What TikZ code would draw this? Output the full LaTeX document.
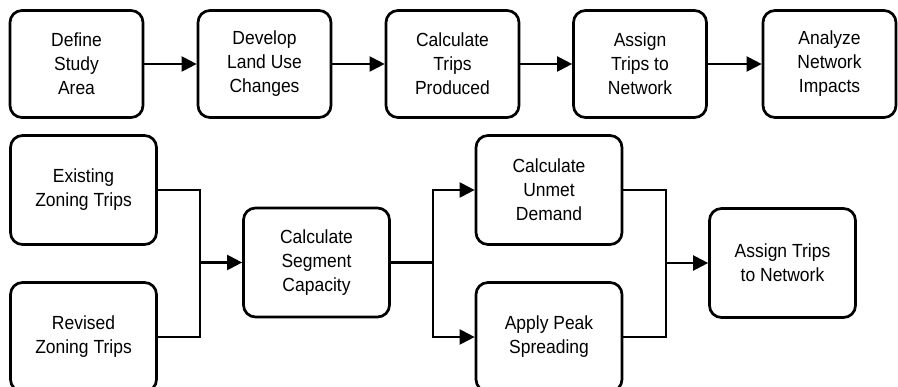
\documentclass[tikz,border=0pt]{standalone}
\usepackage{fontspec}
\setmainfont[FakeStretch=0.92]{Liberation Sans}
\usetikzlibrary{arrows.meta}
\begin{document}
\begin{tikzpicture}[x=1pt,y=-1pt,
  stepbox/.style={draw,line width=2.7pt,rounded corners=12pt,align=center,
    inner sep=0pt,font=\fontsize{19}{24}\selectfont},
  topbox/.style={stepbox,minimum width=133pt,minimum height=107pt},
  botbox/.style={stepbox,minimum width=146pt,minimum height=109pt},
  conn/.style={line width=2.2pt},
  arr/.style={conn,-{Triangle[length=15pt,width=15pt]}}]
\clip (0,0) rectangle (898,387);
\useasboundingbox (0,0) rectangle (898,387);
% top row
\node[topbox] (t1) at (76.5,64) {Define\\Study\\Area};
\node[topbox] (t2) at (264.5,64) {Develop\\Land Use\\Changes};
\node[topbox] (t3) at (452.5,64) {Calculate\\Trips\\Produced};
\node[topbox] (t4) at (640,64) {Assign\\Trips to\\Network};
\node[topbox] (t5) at (829.5,64) {Analyze\\Network\\Impacts};
\draw[arr] (t1) -- (t2);
\draw[arr] (t2) -- (t3);
\draw[arr] (t3) -- (t4);
\draw[arr] (t4) -- (t5);
% bottom
\node[botbox] (ex) at (83.5,190) {Existing\\Zoning Trips};
\node[botbox] (rev) at (83.5,337) {Revised\\Zoning Trips};
\node[botbox] (seg) at (316.5,262.5) {Calculate\\Segment\\Capacity};
\node[botbox] (un) at (549,190) {Calculate\\Unmet\\Demand};
\node[botbox] (pk) at (549,337) {Apply Peak\\Spreading};
\node[botbox] (as) at (782.5,263) {Assign Trips\\to Network};
\coordinate (j1) at (200,262.5);
\coordinate (j2) at (433,262.5);
\coordinate (j3) at (666,263);
\draw[conn] (ex.east) -| (j1) |- (rev.east);
\draw[arr] (j1) -- (seg.west);
\draw[conn] (seg.east) -- (j2);
\draw[arr] (j2) |- (un.west);
\draw[arr] (j2) |- (pk.west);
\draw[conn] (un.east) -| (j3) |- (pk.east);
\draw[arr] (j3) -- (as.west);
\end{tikzpicture}
\end{document}
